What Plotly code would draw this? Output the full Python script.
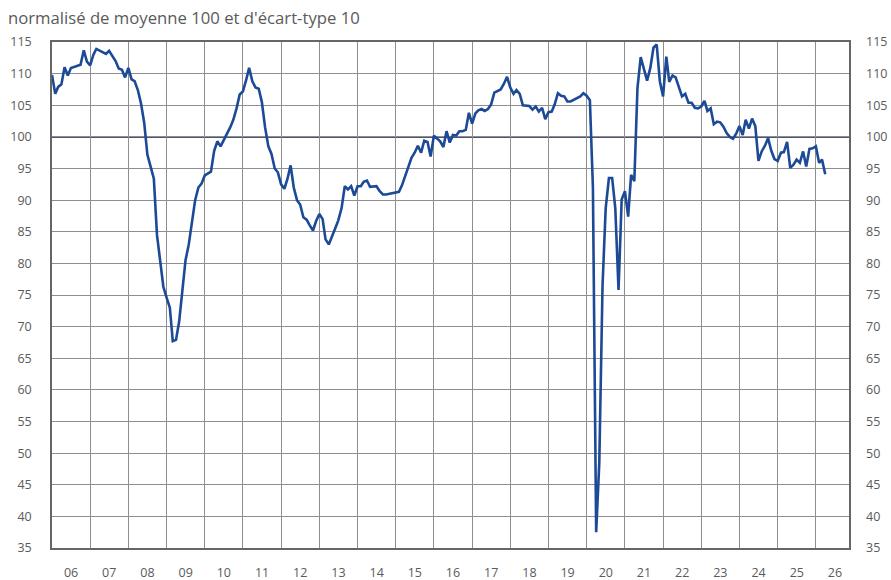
import pandas as pd
import plotly.graph_objects as go

title_text = "normalisé de moyenne 100 et d'écart-type 10"
reference_level = 100

v2006 = [109.8, 106.8, 107.9, 108.3, 111.0, 109.7, 110.9, 111.1, 111.2, 111.4, 113.7, 111.9]
v2007 = [111.3, 113.0, 113.9, 113.6, 113.3, 113.1, 113.6, 112.8, 112.0, 110.8, 110.6, 109.4]
v2008 = [110.9, 109.1, 108.8, 107.4, 105.3, 102.2, 97.2, 95.3, 93.4, 84.5, 80.3, 76.3]
v2009 = [74.6, 73.0, 67.7, 67.9, 70.8, 76.0, 80.5, 83.0, 86.8, 90.0, 92.0, 92.6]
v2010 = [93.9, 94.2, 94.5, 97.8, 99.3, 98.5, 99.4, 100.5, 101.5, 102.7, 104.5, 106.7]
v2011 = [107.2, 109.0, 110.9, 108.8, 107.8, 107.6, 105.5, 101.5, 98.5, 97.3, 95.0, 94.4]
v2012 = [92.5, 91.8, 93.3, 95.5, 92.0, 90.0, 89.3, 87.3, 86.9, 86.0, 85.2, 86.7]
v2013 = [87.8, 87.0, 83.8, 83.0, 84.4, 85.5, 86.8, 88.7, 92.2, 91.7, 92.2, 90.7]
v2014 = [92.2, 92.2, 92.9, 93.1, 92.1, 92.2, 92.2, 91.4, 90.9, 90.9, 91.0, 91.1]
v2015 = [91.1, 91.3, 92.3, 93.8, 95.3, 96.7, 97.5, 98.6, 97.5, 99.4, 99.2, 96.9]
v2016 = [100.2, 99.8, 99.3, 98.4, 100.9, 99.1, 100.3, 100.2, 100.9, 100.9, 101.1, 103.8]
v2017 = [102.1, 103.7, 104.2, 104.4, 104.1, 104.4, 105.1, 107.0, 107.2, 107.5, 108.4, 109.5]
v2018 = [107.8, 106.8, 107.4, 106.8, 105.0, 105.0, 104.9, 104.3, 104.8, 104.0, 104.6, 102.8]
v2019 = [103.9, 104.0, 105.1, 106.9, 106.5, 106.4, 105.6, 105.6, 105.9, 106.2, 106.4, 106.9]
v2020 = [106.5, 105.8, 92.0, 37.5, 48.5, 76.5, 88.7, 93.5, 93.5, 88.7, 75.8, 90.1]
v2021 = [91.4, 87.4, 94.0, 93.0, 107.7, 112.6, 110.9, 108.9, 110.9, 114.1, 114.6, 108.8]
v2022 = [106.4, 112.7, 108.7, 109.7, 109.4, 108.0, 106.4, 106.8, 105.4, 105.4, 104.6, 104.5]
v2023 = [104.8, 105.7, 104.1, 104.5, 102.0, 102.4, 102.3, 101.6, 100.6, 100.0, 99.7, 100.5]
v2024 = [101.7, 100.3, 102.7, 101.3, 102.9, 101.7, 96.2, 97.7, 98.6, 99.8, 97.8, 96.5]
v2025 = [96.2, 97.5, 97.6, 99.2, 95.1, 95.6, 96.4, 95.9, 97.7, 95.3, 98.1, 98.2]
v2026 = [98.5, 95.9, 96.4, 94.1]

values = (v2006 + v2007 + v2008 + v2009 + v2010 + v2011 + v2012 + v2013 + v2014 +
          v2015 + v2016 + v2017 + v2018 + v2019 + v2020 + v2021 + v2022 + v2023 +
          v2024 + v2025 + v2026)
dates = pd.date_range("2006-01-01", periods=len(values), freq="MS")

LINE = "#1c4a96"
GRID = "#8e8e8e"
AXIS = "#666666"
TXT = "#5a5a5a"
FONT = "Open Sans"

fig = go.Figure()
fig.add_trace(go.Scatter(x=dates, y=values, mode="lines",
                         line=dict(color=LINE, width=2.6), showlegend=False,
                         hoverinfo="x+y"))
fig.add_trace(go.Scatter(x=dates, y=values, mode="lines", yaxis="y2",
                         line=dict(color="rgba(0,0,0,0)", width=0), showlegend=False,
                         hoverinfo="skip"))

fig.add_shape(type="line", xref="paper", x0=0, x1=1, yref="y", y0=reference_level,
              y1=reference_level, line=dict(color="#4e5370", width=2), layer="below")

yaxis_common = dict(range=[35, 115], dtick=5, tick0=35, ticks="",
                    tickfont=dict(family=FONT, size=12.5, color=TXT),
                    ticklabelstandoff=16, automargin=False, fixedrange=True)

fig.update_layout(
    width=891, height=580,
    margin=dict(l=52, r=42, t=42, b=32),
    paper_bgcolor="white", plot_bgcolor="white",
    font=dict(family=FONT, color=TXT),
    title=dict(text=title_text, xref="container", yref="container",
               x=8 / 891, xanchor="left", y=1 - 18 / 580, yanchor="middle",
               font=dict(family=FONT, size=16.7, color=TXT)),
    xaxis=dict(type="date", range=["2006-01-01", "2026-11-14"],
               dtick="M12", tick0="2006-01-01", tickformat="%y",
               ticklabelmode="period", ticks="",
               showgrid=True, gridcolor=GRID, gridwidth=1,
               showline=True, linecolor=AXIS, linewidth=1.5, mirror=True,
               tickfont=dict(family=FONT, size=12.5, color=TXT),
               ticklabelstandoff=12, automargin=False, fixedrange=True),
    yaxis=dict(**yaxis_common, side="left", showgrid=True, gridcolor=GRID,
               gridwidth=1, showline=True, linecolor=AXIS, linewidth=1.5,
               mirror=True, zeroline=False),
    yaxis2=dict(**yaxis_common, side="right", overlaying="y", showgrid=False,
                showline=False, zeroline=False),
)

fig.write_html("out.html", config={"displayModeBar": False},
               post_script="document.body.style.margin='0';document.body.style.overflow='hidden';")
